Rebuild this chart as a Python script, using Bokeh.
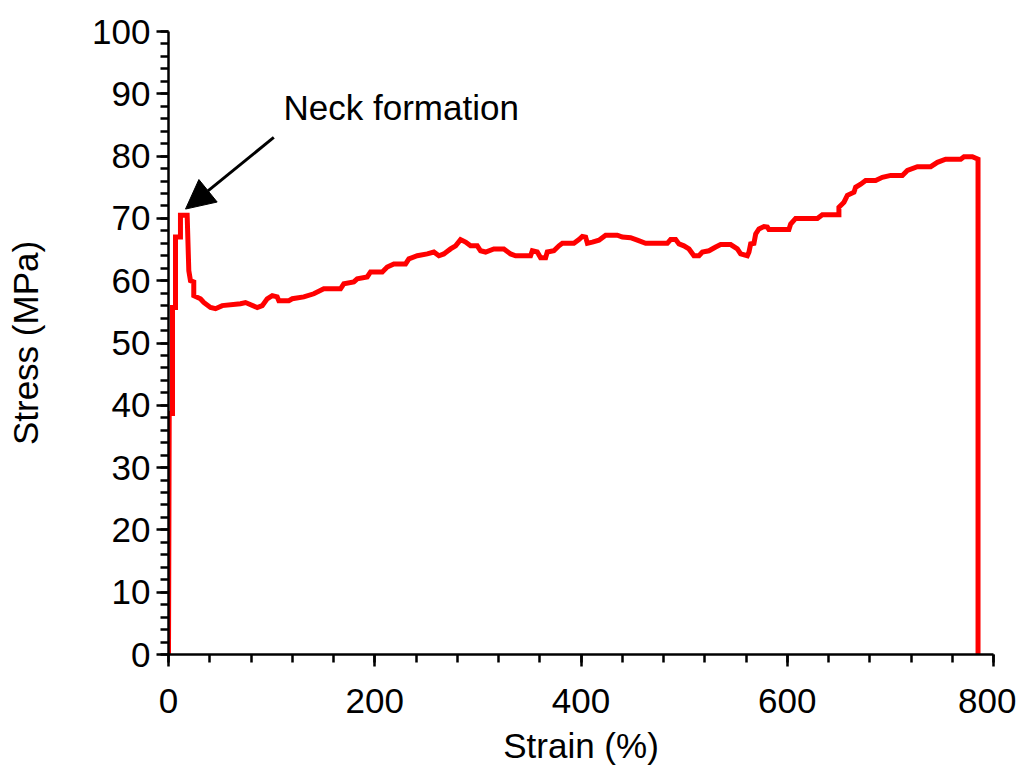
from bokeh.plotting import figure
from bokeh.models import FixedTicker, Arrow, NormalHead, Label
from bokeh.embed import file_html
from bokeh.resources import INLINE

strain = [0.0, 0.7, 3.9, 3.9, 6.8, 6.8, 11.6, 11.6, 18.1, 19.7, 21.3, 24.5, 24.5, 31.0, 34.2,
          40.7, 45.6, 52.1, 69.8, 74.7, 86.0, 90.9, 95.7, 100.6, 105.4, 107.0, 116.7, 120.0,
          131.2, 140.9, 150.6, 166.8, 170.0, 179.7, 183.0, 192.7, 195.9, 207.3, 212.1, 218.5,
          229.9, 233.1, 241.2, 250.9, 257.3, 262.2, 267.0, 273.5, 278.4, 283.2, 288.1, 292.9,
          299.4, 302.6, 307.5, 315.5, 325.2, 331.7, 336.6, 351.1, 352.8, 357.6, 360.8, 365.7,
          367.3, 373.7, 378.6, 381.9, 393.1, 398.0, 401.3, 404.5, 406.2, 411.0, 417.4, 423.9,
          435.2, 440.1, 448.1, 454.6, 462.7, 483.7, 486.9, 491.8, 495.0, 499.8, 504.7, 509.5,
          514.4, 517.7, 524.1, 530.6, 535.4, 545.1, 551.6, 554.8, 561.3, 562.9, 564.5, 567.7,
          569.4, 572.6, 577.4, 580.7, 582.2, 601.6, 603.3, 608.1, 629.2, 634.0, 650.1, 650.1,
          655.0, 658.3, 664.7, 666.3, 671.2, 676.0, 685.7, 692.2, 700.3, 711.6, 716.5, 726.2,
          739.1, 745.6, 753.6, 768.2, 771.4, 779.5, 785.0, 785.0]
stress = [0.0, 38.7, 38.7, 55.7, 55.7, 67.0, 67.0, 70.5, 70.5, 61.6, 60.0, 59.8, 57.6, 57.1, 56.5,
          55.7, 55.5, 56.0, 56.3, 56.5, 55.7, 56.0, 57.1, 57.6, 57.4, 56.8, 56.8, 57.1,
          57.4, 57.9, 58.7, 58.7, 59.5, 59.8, 60.3, 60.6, 61.4, 61.4, 62.2, 62.7,
          62.7, 63.5, 64.0, 64.3, 64.6, 64.0, 64.3, 65.1, 65.6, 66.6, 66.2, 65.6,
          65.6, 64.8, 64.6, 65.1, 65.1, 64.3, 64.0, 64.0, 64.8, 64.6, 63.7, 63.7,
          64.6, 64.8, 65.6, 66.0, 66.0, 66.6, 67.1, 67.0, 66.0, 66.2, 66.5, 67.3,
          67.3, 67.0, 66.9, 66.5, 66.0, 66.0, 66.6, 66.6, 65.9, 65.6, 65.1, 64.0,
          64.0, 64.6, 64.8, 65.4, 65.8, 65.8, 65.1, 64.3, 64.0, 64.6, 65.9, 66.0,
          67.5, 68.3, 68.7, 68.6, 68.2, 68.2, 69.1, 70.0, 70.0, 70.6, 70.6, 71.8,
          72.6, 73.7, 74.2, 75.0, 75.5, 76.1, 76.1, 76.6, 76.9, 76.9, 77.7, 78.3,
          78.3, 79.0, 79.5, 79.5, 79.9, 79.9, 79.5, 0.0]

x_ticks = [0, 200, 400, 600, 800]
x_minor = list(range(0, 801, 40))
y_ticks = list(range(0, 101, 10))
y_minor = list(range(0, 101, 2))

note_text = "Neck formation"
note_pos = (111.5, 87.8)
arrow_start = (102.1, 83.0)
arrow_end = (16.5, 71.5)

FONT = "Liberation Sans"

p = figure(width=1016, height=775, x_range=(0, 800), y_range=(0, 100),
           output_backend="svg", toolbar_location=None,
           min_border_left=168, min_border_right=23, min_border_top=31, min_border_bottom=121)
p.outline_line_color = None
p.grid.visible = False
p.background_fill_color = "white"

p.line(strain, stress, line_color="#FF0000", line_width=5, line_join="miter")

for ax in (p.xaxis[0], p.yaxis[0]):
    ax.axis_line_width = 2.5
    ax.major_tick_line_width = 2.5
    ax.minor_tick_line_width = 2.5
    ax.axis_line_color = "black"
    ax.major_tick_line_color = "black"
    ax.minor_tick_line_color = "black"
    ax.major_tick_in = 0
    ax.minor_tick_in = 0
    ax.major_tick_out = 12
    ax.minor_tick_out = 8
    ax.major_label_text_font = FONT
    ax.major_label_text_font_size = "35px"
    ax.major_label_text_color = "black"
    ax.axis_label_text_font = FONT
    ax.axis_label_text_font_size = "35px"
    ax.axis_label_text_font_style = "normal"
    ax.axis_label_text_color = "black"

p.xaxis.ticker = FixedTicker(ticks=x_ticks, minor_ticks=x_minor)
p.yaxis.ticker = FixedTicker(ticks=y_ticks, minor_ticks=y_minor)
p.xaxis.axis_label = "Strain (%)"
p.yaxis.axis_label = "Stress (MPa)"
p.xaxis.major_label_standoff = 22
p.yaxis.major_label_standoff = 6
p.xaxis.axis_label_standoff = 10
p.yaxis.axis_label_standoff = 44

p.add_layout(Arrow(end=NormalHead(size=29, fill_color="black", line_color="black", line_width=1),
                   x_start=arrow_start[0], y_start=arrow_start[1],
                   x_end=arrow_end[0], y_end=arrow_end[1],
                   line_color="black", line_width=3))
p.add_layout(Label(x=note_pos[0], y=note_pos[1], text=note_text, text_font=FONT,
                   text_font_size="35px", text_color="black", text_baseline="alphabetic"))

open("out.html", "w").write(file_html(p, INLINE))
